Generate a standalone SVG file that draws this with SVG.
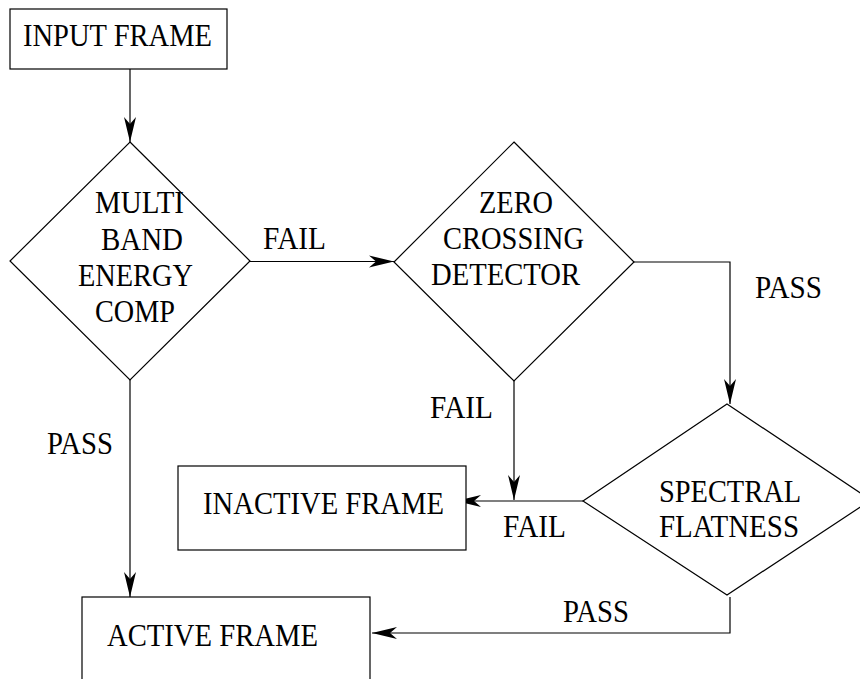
<svg xmlns="http://www.w3.org/2000/svg" width="860" height="679" viewBox="0 0 860 679">
  <defs>
    <style>
      .box { fill: #ffffff; stroke: #000000; stroke-width: 1.2; }
      .dec { fill: #ffffff; stroke: #000000; stroke-width: 1.2; stroke-linejoin: miter; }
      .wire { fill: none; stroke: #000000; stroke-width: 1.2; }
      .lbl { font-family: 'Liberation Serif', 'Times New Roman', serif; font-size: 31px; fill: #000000; }
    </style>
    <marker id="barb" viewBox="-27 -7 28 14" markerUnits="userSpaceOnUse" markerWidth="28" markerHeight="14" refX="0" refY="0" orient="auto">
      <path d="M0,0 L-25,-6 L-18,0 L-25,6 Z" fill="#000000"/>
    </marker>
  </defs>
  <rect width="860" height="679" fill="#ffffff"/>

  <!-- connectors -->
  <g id="connectors">
    <path class="wire" d="M130,69 V142" marker-end="url(#barb)"/>
    <path class="wire" d="M250,261.5 H394" marker-end="url(#barb)"/>
    <path class="wire" d="M634,262 H730 V404" marker-end="url(#barb)"/>
    <path class="wire" d="M514,381 V500" marker-end="url(#barb)"/>
    <path class="wire" d="M583,501 H456" marker-end="url(#barb)"/>
    <path class="wire" d="M130,380 V597" marker-end="url(#barb)"/>
    <path class="wire" d="M730,597 V633 H372" marker-end="url(#barb)"/>
    <text class="lbl" x="263" y="249" textLength="63" lengthAdjust="spacingAndGlyphs">FAIL</text>
    <text class="lbl" x="755" y="298" textLength="67" lengthAdjust="spacingAndGlyphs">PASS</text>
    <text class="lbl" x="430" y="418" textLength="63" lengthAdjust="spacingAndGlyphs">FAIL</text>
    <text class="lbl" x="47" y="454" textLength="66" lengthAdjust="spacingAndGlyphs">PASS</text>
    <text class="lbl" x="503" y="537" textLength="63" lengthAdjust="spacingAndGlyphs">FAIL</text>
    <text class="lbl" x="563" y="622" textLength="66" lengthAdjust="spacingAndGlyphs">PASS</text>
  </g>

  <!-- nodes -->
  <g id="input-frame">
    <rect class="box" x="10" y="9" width="217" height="60"/>
    <text class="lbl" x="23" y="46" textLength="189" lengthAdjust="spacingAndGlyphs">INPUT FRAME</text>
  </g>

  <g id="multiband-energy">
    <polygon class="dec" points="130,142 250,261 130,380 10,261"/>
    <text class="lbl" x="95" y="213" textLength="89" lengthAdjust="spacingAndGlyphs">MULTI</text>
    <text class="lbl" x="101" y="250" textLength="82" lengthAdjust="spacingAndGlyphs">BAND</text>
    <text class="lbl" x="78" y="286" textLength="115" lengthAdjust="spacingAndGlyphs">ENERGY</text>
    <text class="lbl" x="95" y="322" textLength="80" lengthAdjust="spacingAndGlyphs">COMP</text>
  </g>

  <g id="zero-crossing">
    <polygon class="dec" points="514,142 634,262 514,381 394,262"/>
    <text class="lbl" x="479" y="213" textLength="74" lengthAdjust="spacingAndGlyphs">ZERO</text>
    <text class="lbl" x="443" y="249" textLength="141" lengthAdjust="spacingAndGlyphs">CROSSING</text>
    <text class="lbl" x="431" y="285" textLength="149" lengthAdjust="spacingAndGlyphs">DETECTOR</text>
  </g>

  <g id="spectral-flatness">
    <polygon class="dec" points="727,404 871,500 727,595 583,501"/>
    <text class="lbl" x="659" y="502" textLength="142" lengthAdjust="spacingAndGlyphs">SPECTRAL</text>
    <text class="lbl" x="659" y="537" textLength="140" lengthAdjust="spacingAndGlyphs">FLATNESS</text>
  </g>

  <g id="inactive-frame">
    <rect class="box" x="178" y="466" width="288" height="84"/>
    <text class="lbl" x="203" y="514" textLength="241" lengthAdjust="spacingAndGlyphs">INACTIVE FRAME</text>
  </g>

  <g id="active-frame">
    <rect class="box" x="82" y="597" width="288" height="100"/>
    <text class="lbl" x="107" y="646" textLength="211" lengthAdjust="spacingAndGlyphs">ACTIVE FRAME</text>
  </g>
</svg>
